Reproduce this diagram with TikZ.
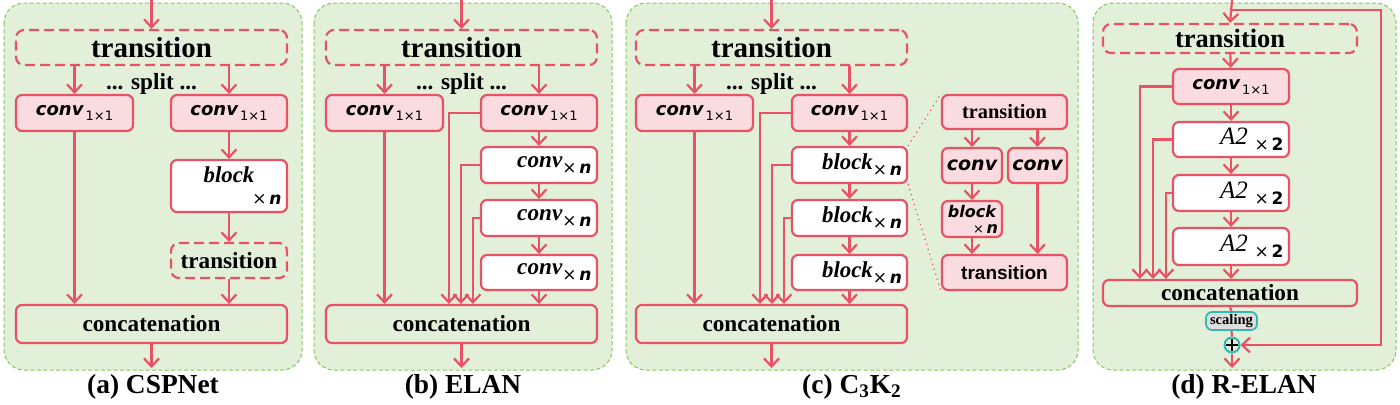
\documentclass[tikz,border=0pt]{standalone}
\usepackage{fontspec}
\setmainfont{Liberation Serif}
\newfontfamily\dvs{DejaVu Sans}
\newfontfamily\lsans{Liberation Sans}
\usetikzlibrary{positioning}
\usetikzlibrary{calc}
\usetikzlibrary{arrows.meta}

\definecolor{redline}{RGB}{232,82,100}
\definecolor{pinkfill}{RGB}{250,219,224}
\definecolor{greenbg}{RGB}{226,239,217}
\definecolor{greenedge}{RGB}{130,200,90}
\definecolor{tealedge}{RGB}{50,185,180}
\definecolor{grayfill}{RGB}{222,222,222}

\tikzset{>={Straight Barb[length=4pt,width=7.5pt]}}
\tikzset{panel/.style={draw=greenedge, fill=greenbg, dash pattern=on 2pt off 1.2pt, line width=0.5pt, rounded corners=10pt}}
\tikzset{ln/.style={draw=redline, line width=1.1pt}}
\tikzset{pbox/.style={ln, fill=pinkfill, rounded corners=3pt, inner sep=1pt}}
\tikzset{wbox/.style={ln, fill=white, rounded corners=3pt, inner xsep=2pt, inner ysep=1pt}}
\tikzset{dbox/.style={ln, dash pattern=on 5pt off 2.5pt, rounded corners=4pt, inner sep=1pt}}
\tikzset{sz/.style 2 args={minimum width=#1*0.5pt, minimum height=#2*0.5pt}}
\tikzset{big/.style={font=\fontsize{14.5}{15}\selectfont\bfseries}}
\tikzset{mid/.style={font=\fontsize{11.6}{12}\selectfont\bfseries}}
\tikzset{captxt/.style={font=\fontsize{13.7}{14}\selectfont\bfseries}}
\tikzset{rtext/.style={text width=52.5pt, align=right}}

\newcommand\cv{{\fontsize{9}{10}\selectfont\dvs\bfseries\itshape conv}}
\newcommand\sone{\raisebox{-2.5pt}{\fontsize{6.5}{7}\selectfont\dvs\,1×1}}
\newcommand\xn{\raisebox{-3pt}{\fontsize{8.5}{9}\selectfont\dvs ×\,\textbf{\textit{n}}}}
\newcommand\cvs{{\fontsize{11.6}{12}\selectfont\bfseries\itshape conv}}
\newcommand\blk{{\fontsize{11.4}{12}\selectfont\bfseries\itshape block}}
\newcommand\atwo{{\fontsize{12.5}{13}\selectfont\itshape A2}\,\,\raisebox{-3pt}{\fontsize{8.5}{9}\selectfont\dvs ×\,\textbf{2}}}

\begin{document}
\begin{tikzpicture}[x=0.5pt,y=-0.5pt]
\useasboundingbox (0,0) rectangle (1400,404);

% (a) CSPNet
\draw[panel] (4,3) rectangle (302,370);
\coordinate (ina) at (151.5,0);
\coordinate (outa) at (151.5,368);
\node[dbox,big,sz={271}{35}] (ta) at (151.5,47.5) {transition};
\node[mid,below=0pt of ta] (spa) {... split ...};
\node[pbox,sz={117}{36}] (ca1) at (74.5,113) {\cv\sone};
\node[pbox,sz={116}{36}] (ca2) at (229,113) {\cv\sone};
\node[wbox,sz={116}{52},text width=52.5pt,align=center] (ba) at (229,186) {\blk\\[-4pt]\hspace*{\fill}\xn};
\node[dbox,mid,sz={116}{35}] (tra) at (229,260.5) {transition};
\node[ln,mid,rounded corners=3pt,sz={271}{38}] (cata) at (151.5,324) {concatenation};
\node[captxt] (capa) at (153,387) {(a) CSPNet};

\draw[ln,->] (ina) -- (ta.north);
\draw[ln,->] (ca1 |- ta.south) -- (ca1);
\draw[ln,->] (ca2 |- ta.south) -- (ca2);
\draw[ln,->] (ca1) -- (ca1 |- cata.north);
\draw[ln,->] (ca2) -- (ba);
\draw[ln,->] (ba) -- (tra);
\draw[ln,->] (tra) -- (tra |- cata.north);
\draw[ln,->] (cata.south) -- (outa);

% (b) ELAN
\draw[panel] (314,3) rectangle (612,370);
\coordinate (inb) at (461.5,0);
\coordinate (outb) at (461.5,368);
\node[dbox,big,sz={271}{35}] (tb) at (461.5,47.5) {transition};
\node[mid,below=0pt of tb] (spb) {... split ...};
\node[pbox,sz={117}{36}] (cb1) at (384.5,113) {\cv\sone};
\node[pbox,sz={116}{36}] (cb2) at (539,113) {\cv\sone};
\node[wbox,rtext,sz={116}{36}] (nb1) at (539,165) {\cvs\xn};
\node[wbox,rtext,sz={116}{36}] (nb2) at (539,218) {\cvs\xn};
\node[wbox,rtext,sz={116}{35}] (nb3) at (539,272.5) {\cvs\xn};
\node[ln,mid,rounded corners=3pt,sz={271}{38}] (catb) at (461.5,324) {concatenation};
\node[captxt] (capb) at (463,387) {(b) ELAN};

\draw[ln,->] (inb) -- (tb.north);
\draw[ln,->] (cb1 |- tb.south) -- (cb1);
\draw[ln,->] (cb2 |- tb.south) -- (cb2);
\draw[ln,->] (cb1) -- (cb1 |- catb.north);
\draw[ln,->] (cb2) -- (nb1);
\draw[ln,->] (nb1) -- (nb2);
\draw[ln,->] (nb2) -- (nb3);
\draw[ln,->] (nb3) -- (nb3 |- catb.north);
\draw[ln,->] (cb2.west) -| ($(catb.north -| cb2.west)+(-31,0)$);
\draw[ln,->] (nb1.west) -| ($(catb.north -| nb1.west)+(-19,0)$);
\draw[ln,->] (nb2.west) -| ($(catb.north -| nb2.west)+(-7,0)$);
\draw[ln,->] (catb.south) -- (outb);

% (c) C3K2
\draw[panel] (626,3) rectangle (1078,370);
\coordinate (inc) at (771.5,0);
\coordinate (outc) at (771.5,368);
\node[dbox,big,sz={271}{35}] (tc) at (771.5,47.5) {transition};
\node[mid,below=0pt of tc] (spc) {... split ...};
\node[pbox,sz={117}{36}] (cc1) at (694.5,113) {\cv\sone};
\node[pbox,sz={115}{36}] (cc2) at (849.5,113) {\cv\sone};
\node[wbox,rtext,sz={115}{36}] (bc1) at (849.5,165) {\blk\xn};
\node[wbox,rtext,sz={115}{36}] (bc2) at (849.5,218) {\blk\xn};
\node[wbox,rtext,sz={115}{35}] (bc3) at (849.5,272.5) {\blk\xn};
\node[ln,mid,rounded corners=3pt,sz={271}{38}] (catc) at (771.5,324) {concatenation};
\node[captxt] (capc) at (852,387) {(c) C\textsubscript{3}K\textsubscript{2}};

\draw[ln,->] (inc) -- (tc.north);
\draw[ln,->] (cc1 |- tc.south) -- (cc1);
\draw[ln,->] (cc2 |- tc.south) -- (cc2);
\draw[ln,->] (cc1) -- (cc1 |- catc.north);
\draw[ln,->] (cc2) -- (bc1);
\draw[ln,->] (bc1) -- (bc2);
\draw[ln,->] (bc2) -- (bc3);
\draw[ln,->] (bc3) -- (bc3 |- catc.north);
\draw[ln,->] (cc2.west) -| ($(catc.north -| cc2.west)+(-31,0)$);
\draw[ln,->] (bc1.west) -| ($(catc.north -| bc1.west)+(-19,0)$);
\draw[ln,->] (bc2.west) -| ($(catc.north -| bc2.west)+(-7,0)$);
\draw[ln,->] (catc.south) -- (outc);

% inside of a block
\node[pbox,sz={125}{34},font=\fontsize{10.2}{11}\selectfont\bfseries] (it1) at (1004.5,112) {transition};
\node[pbox,sz={60}{35},font=\fontsize{9.5}{10}\selectfont\dvs\bfseries\itshape] (ic1) at (972,165.5) {conv};
\node[pbox,sz={59}{35},font=\fontsize{9.5}{10}\selectfont\dvs\bfseries\itshape] (ic2) at (1037.5,165.5) {conv};
\node[pbox,sz={60}{36},inner ysep=0pt,text width=26pt,align=center,font=\fontsize{8}{8}\selectfont\dvs\bfseries\itshape] (ib) at (972,219) {block\\[0pt]\hspace*{\fill}{\fontsize{6.5}{6.5}\selectfont\mdseries\upshape ×}\,n};
\node[pbox,sz={125}{35},font=\fontsize{9.5}{10}\selectfont\lsans\bfseries] (it2) at (1004.5,272.5) {transition};

\draw[ln,->] (ic1 |- it1.south) -- (ic1);
\draw[ln,->] (ic2 |- it1.south) -- (ic2);
\draw[ln,->] (ic1) -- (ib);
\draw[ln,->] (ib) -- (ib |- it2.north);
\draw[ln,->] (ic2) -- (ic2 |- it2.north);
\draw[redline,dotted,line width=0.6pt] (bc1.north east) -- (it1.north west);
\draw[redline,dotted,line width=0.6pt] (bc1.south east) -- (it2.south west);

% (d) R-ELAN
\draw[panel] (1093,3) rectangle (1396,370);
\coordinate (ind) at (1232,0);
\coordinate (outd) at (1232,368);
\coordinate (rtop) at (1232,10);
\coordinate (rside) at (1381,345);
\node[dbox,font=\fontsize{13.2}{14}\selectfont\bfseries,sz={254}{29}] (td) at (1230,38.5) {transition};
\node[pbox,sz={116}{35}] (cd) at (1231,86.5) {\cv\sone};
\node[wbox,rtext,sz={116}{35}] (ad1) at (1231,139.5) {\atwo};
\node[wbox,rtext,sz={116}{36}] (ad2) at (1231,193) {\atwo};
\node[wbox,rtext,sz={116}{37}] (ad3) at (1231,246.5) {\atwo};
\node[ln,mid,rounded corners=3pt,inner sep=0pt,sz={254}{26}] (catd) at (1230,293) {concatenation};
\node[draw=tealedge,fill=grayfill,line width=0.9pt,rounded corners=3pt,inner sep=0pt,sz={51}{18},font=\fontsize{7.3}{8}\selectfont\bfseries] (sc) at (1231.5,321) {scaling};
\node[circle,draw=tealedge,fill=greenbg,line width=1pt,inner sep=0pt,minimum size=7.5pt,
  path picture={\draw[black,line width=0.8pt] ([yshift=-0.8pt]path picture bounding box.north) -- ([yshift=0.8pt]path picture bounding box.south)
  ([xshift=0.8pt]path picture bounding box.west) -- ([xshift=-0.8pt]path picture bounding box.east);}] (pl) at (1232,345) {};
\node[captxt] (capd) at (1244,387) {(d) R-ELAN};

\draw[ln,->] (ind) -- (td.north);
\draw[ln,->] (td) -- (cd);
\draw[ln,->] (cd) -- (ad1);
\draw[ln,->] (ad1) -- (ad2);
\draw[ln,->] (ad2) -- (ad3);
\draw[ln,->] (ad3) -- (ad3 |- catd.north);
\draw[ln,->] (cd.west) -| ($(catd.north -| cd.west)+(-32,0)$);
\draw[ln,->] (ad1.west) -| ($(catd.north -| ad1.west)+(-19,0)$);
\draw[ln,->] (ad2.west) -| ($(catd.north -| ad2.west)+(-6,0)$);
\draw[ln] (catd.south) -- (sc.north);
\draw[ln] (sc.south) -- (pl.north);
\draw[ln,->] (pl.south) -- (outd);
\draw[ln,->] (rtop) -| (rside) -- (pl.east);

\end{tikzpicture}
\end{document}
